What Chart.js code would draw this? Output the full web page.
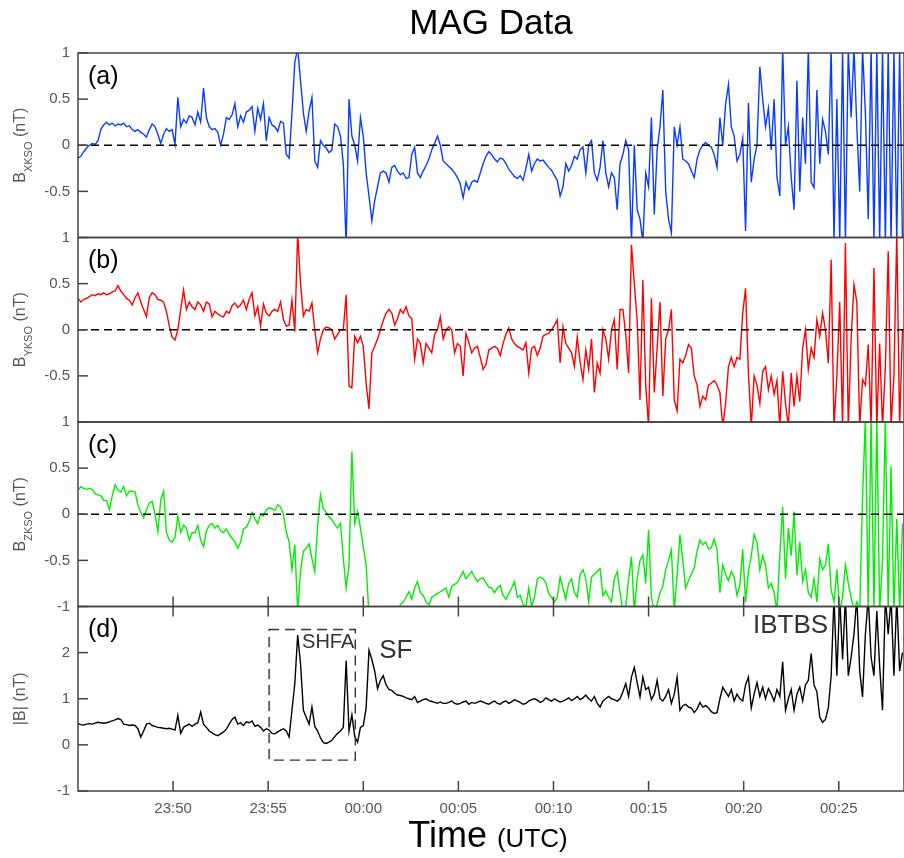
<!DOCTYPE html>
<html>
<head>
<meta charset="utf-8">
<script src="https://cdn.jsdelivr.net/npm/chart.js@4/dist/chart.umd.min.js"></script>
<style>
  html, body { margin: 0; padding: 0; background: #ffffff; }
  canvas { display: block; }
</style>
</head>
<body>
<canvas id="chart" width="904" height="858"></canvas>
<script>
// ---------------- data ----------------
// sample times are minutes relative to 00:00 UTC (negative = before midnight)
const startMinute = -15;
const stepMinutes = 0.15;
const xMin = -15;
const xMax = 28.43;
const xTickValues = [-10, -5, 0, 5, 10, 15, 20, 25];
const xTickLabels = ['23:50', '23:55', '00:00', '00:05', '00:10', '00:15', '00:20', '00:25'];
const ticksAB = [-0.5, 0, 0.5, 1];
const ticksC = [-1, -0.5, 0, 0.5, 1];
const ticksMag = [-1, 0, 1, 2];

const bxValues = [
  -0.14,-0.12,-0.07,-0.03,0.0,0.02,0.01,0.05,0.17,0.22,
  0.25,0.22,0.24,0.21,0.23,0.22,0.24,0.2,0.21,0.17,
  0.15,0.17,0.14,0.12,0.09,0.17,0.23,0.2,0.12,0.02,
  0.12,0.18,0.15,0.17,0.01,0.52,0.2,0.28,0.24,0.32,
  0.3,0.22,0.36,0.25,0.62,0.3,0.2,0.17,0.18,0.14,
  0.0,0.12,0.3,0.28,0.33,0.45,0.2,0.32,0.25,0.36,
  0.38,0.42,0.15,0.4,0.28,0.45,0.05,0.3,0.22,0.2,
  0.15,0.26,0.24,-0.1,-0.14,0.35,0.9,1.05,0.7,0.35,
  0.15,0.37,0.52,-0.17,-0.24,0.05,0.0,-0.03,-0.08,-0.05,
  0.23,0.2,0.1,-0.2,-1.1,0.5,0.1,0.0,-0.17,0.3,
  0.1,-0.3,-0.55,-0.82,-0.6,-0.45,-0.3,-0.28,-0.3,-0.4,
  -0.24,-0.22,-0.28,-0.32,-0.3,-0.36,-0.35,-0.1,-0.02,-0.3,
  -0.35,-0.28,-0.22,-0.15,-0.05,0.02,0.1,0.0,-0.17,-0.2,
  -0.23,-0.26,-0.3,-0.35,-0.42,-0.57,-0.4,-0.48,-0.4,-0.38,
  -0.4,-0.3,-0.2,-0.12,-0.07,-0.1,-0.15,-0.18,-0.14,-0.15,
  -0.2,-0.26,-0.3,-0.34,-0.36,-0.33,-0.38,-0.25,-0.1,-0.28,
  -0.2,-0.15,-0.17,-0.16,-0.2,-0.24,-0.27,-0.33,-0.38,-0.55,
  -0.45,-0.2,-0.28,-0.22,-0.12,-0.15,-0.05,-0.02,-0.3,0.0,
  0.05,-0.3,-0.38,-0.24,0.05,-0.3,-0.45,-0.3,-0.35,-0.7,
  -0.2,-0.1,0.05,-0.05,-1.05,0.0,-0.7,-0.8,-1.05,-0.3,
  -0.45,0.3,-0.75,-0.05,0.2,0.6,-0.5,-0.8,-0.95,0.2,
  0.0,0.2,-0.15,-0.17,-0.2,-0.28,-0.35,-0.15,-0.05,0.0,
  0.03,0.0,-0.02,-0.1,-0.24,0.3,0.0,0.45,0.66,0.2,
  0.1,-0.17,-0.1,0.08,-0.93,0.46,-0.4,-0.15,0.0,0.85,
  0.5,0.2,0.4,-0.05,0.5,-0.35,-0.55,1.05,0.0,0.2,
  -0.35,-0.7,0.7,-0.5,0.3,-0.2,1.05,-0.4,-0.46,0.6,
  -0.2,0.28,0.15,-0.1,1.05,-1.05,0.5,-1.05,1.05,-1.05,
  1.05,0.3,1.05,0.2,-0.5,1.05,0.35,-0.8,1.05,-1.05,
  1.05,-1.05,1.05,-1.05,1.05,-1.05,1.05,-1.05,1.05,-1.05
];

const byValues = [
  0.34,0.3,0.33,0.34,0.36,0.38,0.37,0.39,0.38,0.4,
  0.38,0.39,0.41,0.42,0.48,0.42,0.38,0.34,0.32,0.27,
  0.35,0.4,0.3,0.22,0.14,0.35,0.4,0.38,0.33,0.32,
  0.3,0.2,0.04,-0.08,-0.11,0.0,0.22,0.43,0.22,0.3,
  0.25,0.22,0.3,0.27,0.2,0.3,0.28,0.14,0.2,0.17,
  0.15,0.14,0.2,0.18,0.26,0.29,0.24,0.27,0.32,0.22,
  0.33,0.4,0.15,0.25,0.04,0.28,0.18,0.15,0.2,0.22,
  0.2,0.3,0.11,0.04,0.05,0.32,-0.02,1.05,0.5,0.15,
  0.22,0.2,0.29,0.0,-0.25,-0.1,0.0,0.03,0.02,0.0,
  -0.1,-0.05,0.0,0.0,0.38,-0.61,-0.63,-0.07,-0.14,-0.07,
  -0.18,-0.58,-0.86,-0.25,-0.18,-0.1,0.0,0.1,0.18,0.22,
  0.18,0.05,0.12,0.22,0.18,0.25,0.15,0.12,-0.32,-0.1,
  -0.15,-0.36,-0.15,-0.2,-0.25,-0.05,0.0,0.14,-0.1,0.0,
  0.03,0.0,-0.25,-0.15,-0.18,-0.5,-0.04,-0.14,-0.25,-0.2,
  -0.18,-0.3,-0.43,-0.38,-0.22,-0.2,-0.18,-0.2,-0.28,-0.15,
  -0.05,0.02,-0.1,-0.15,-0.18,-0.2,-0.22,-0.14,-0.47,-0.2,
  -0.18,-0.28,-0.2,-0.07,-0.05,-0.04,0.0,0.05,0.11,-0.36,
  0.03,-0.15,-0.2,-0.25,-0.4,-0.08,-0.35,-0.54,-0.22,-0.43,
  -0.1,-0.68,-0.36,-0.47,0.0,-0.1,-0.32,0.0,0.11,-0.43,
  0.22,0.22,-0.05,-0.47,0.92,0.5,0.1,-0.76,0.54,-0.6,
  -1.05,0.34,-0.68,-0.2,0.3,-0.72,-0.1,0.0,0.22,-0.76,
  -0.88,-0.32,-0.36,-0.28,-0.16,-0.2,-0.5,-0.6,-0.83,-0.72,
  -0.76,-0.6,-0.58,-0.55,-0.6,-0.68,-1.05,-0.8,-0.4,-0.3,
  -0.4,-0.3,-0.32,0.18,0.45,-0.47,-1.05,-0.5,-0.6,-0.8,
  -0.45,-0.4,-0.65,-0.5,-0.7,-0.55,-1.05,-0.45,-0.8,-1.05,
  -0.47,-0.83,-0.5,-0.78,-0.2,0.0,-0.43,-0.2,-0.3,0.11,
  -0.07,0.18,0.0,-0.36,0.76,-1.05,-0.5,0.3,-1.05,0.94,
  -1.05,-0.1,0.49,0.3,-1.05,-0.54,-0.6,-0.16,-1.05,0.67,
  -1.05,-0.15,-1.05,-0.4,0.85,-1.05,-0.5,1.05,-1.05,0.0
];

const bzValues = [
  0.26,0.3,0.28,0.27,0.28,0.27,0.22,0.21,0.2,0.15,
  0.15,0.05,0.2,0.32,0.26,0.24,0.3,0.2,0.25,0.25,
  0.24,0.1,0.02,-0.04,0.05,0.12,0.14,0.0,-0.19,0.15,
  0.25,-0.2,-0.28,-0.3,-0.25,-0.02,-0.2,-0.12,-0.15,-0.28,
  -0.2,-0.2,-0.12,-0.28,-0.35,-0.18,-0.12,-0.1,-0.15,-0.12,
  -0.18,-0.2,-0.16,-0.22,-0.26,-0.3,-0.37,-0.3,-0.16,-0.14,
  -0.08,0.02,-0.05,-0.1,0.0,-0.02,0.05,0.07,0.06,0.04,
  0.1,0.08,0.0,-0.19,-0.3,-0.6,-0.33,-1.05,-0.62,-0.4,
  -0.37,-0.32,-0.48,-0.62,-0.12,0.21,0.06,0.02,-0.03,-0.06,
  -0.11,-0.15,-0.1,-0.48,-0.8,-0.55,0.68,-0.1,0.03,-0.15,
  -0.35,-0.55,-1.1,-1.2,-1.2,-1.2,-1.2,-1.2,-1.2,-1.2,
  -1.2,-1.2,-1.05,-0.98,-0.95,-0.9,-0.84,-0.92,-0.8,-0.73,
  -0.85,-0.88,-0.95,-0.98,-0.9,-0.88,-0.86,-0.84,-0.82,-0.8,
  -0.9,-0.78,-0.76,-0.74,-0.68,-0.62,-0.7,-0.66,-0.62,-0.68,
  -0.73,-0.7,-0.69,-0.74,-0.79,-0.8,-0.85,-0.8,-0.77,-0.88,
  -0.92,-0.86,-0.8,-0.73,-0.9,-0.88,-0.98,-1.0,-0.8,-1.0,
  -0.9,-0.7,-0.68,-0.7,-0.74,-0.86,-0.9,-0.95,-0.9,-0.68,
  -0.8,-0.92,-0.75,-0.7,-0.85,-0.9,-0.65,-0.6,-0.7,-0.95,
  -0.68,-0.65,-0.62,-0.59,-0.88,-0.83,-0.9,-0.95,-0.7,-0.62,
  -0.85,-1.05,-1.0,-0.7,-0.46,-1.05,-0.7,-0.5,-0.44,-0.75,
  -0.17,-0.9,-1.05,-0.98,-0.85,-0.78,-0.6,-0.5,-0.39,-1.05,
  -0.66,-0.22,-0.5,-0.8,-0.72,-0.65,-0.58,-0.4,-0.28,-0.33,
  -0.3,-0.38,-0.36,-0.27,-0.38,-0.85,-0.55,-0.65,-0.72,-0.62,
  -0.68,-0.88,-0.77,-0.38,-0.95,-0.62,-0.45,-0.22,-0.3,-0.6,
  -0.45,-0.55,-0.8,-0.75,-0.85,-1.05,-0.45,0.08,-0.7,-0.15,
  -0.45,0.03,-0.66,-0.3,-0.73,-0.6,-0.85,-0.9,-0.7,-0.95,
  -0.48,-0.6,-0.55,-0.32,-0.82,-0.95,-0.6,-1.05,-0.9,-0.55,
  -0.75,-0.9,-1.05,-0.95,-1.05,0.17,1.05,-1.05,1.05,-1.05,
  1.05,-1.05,-0.5,1.05,-1.05,0.52,-1.05,-0.05,-1.05,-0.1
];

const bMagValues = [
  0.46,0.44,0.43,0.45,0.46,0.45,0.47,0.49,0.48,0.47,
  0.48,0.5,0.52,0.54,0.57,0.55,0.45,0.44,0.42,0.43,
  0.42,0.35,0.17,0.3,0.45,0.47,0.42,0.4,0.38,0.37,
  0.36,0.35,0.36,0.34,0.32,0.64,0.25,0.38,0.42,0.45,
  0.4,0.45,0.48,0.71,0.45,0.38,0.3,0.26,0.22,0.2,
  0.24,0.28,0.34,0.45,0.55,0.6,0.45,0.48,0.42,0.5,
  0.48,0.52,0.4,0.43,0.38,0.3,0.35,0.32,0.25,0.24,
  0.28,0.32,0.35,0.3,0.17,0.75,1.33,2.38,1.76,0.75,
  0.6,0.45,0.82,0.4,0.3,0.15,0.05,0.03,0.06,0.1,
  0.18,0.25,0.3,0.38,1.83,0.3,0.65,0.18,0.06,0.38,
  0.42,0.8,2.05,1.85,1.6,1.22,1.4,1.5,1.3,1.2,
  1.18,1.12,1.08,1.07,1.05,1.02,1.0,0.98,1.05,0.92,
  0.95,0.98,1.0,0.96,0.94,0.92,0.9,0.93,0.9,0.9,
  0.92,0.95,0.9,0.88,0.9,0.93,0.95,0.88,0.92,0.9,
  0.92,0.95,0.93,0.9,0.88,0.92,0.95,0.9,0.88,0.93,
  0.95,0.9,0.93,0.98,0.95,0.92,0.88,0.9,0.95,0.98,
  1.0,0.97,0.92,0.95,1.02,0.98,0.95,1.0,0.96,0.93,
  0.95,0.98,1.02,0.96,1.0,1.05,0.98,1.02,1.08,1.0,
  0.95,1.05,0.9,0.82,0.95,1.0,1.05,1.0,0.98,0.95,
  1.0,1.15,1.33,1.05,1.47,1.68,1.35,1.04,1.47,1.2,
  1.25,0.98,1.1,1.4,1.0,0.95,1.05,1.2,0.9,1.1,
  1.47,0.75,0.85,0.88,0.82,0.8,0.7,0.78,0.92,0.82,
  0.85,0.8,0.72,0.68,0.7,1.0,1.25,1.15,1.05,1.2,
  0.95,1.1,1.0,0.95,1.3,1.47,0.8,1.1,1.35,1.05,
  1.25,1.0,1.22,1.1,0.95,1.2,1.05,1.8,0.75,1.0,
  1.2,0.75,1.1,1.25,0.95,1.3,1.4,1.98,1.3,1.15,
  0.6,0.49,0.55,0.8,1.5,3.2,1.5,3.2,1.85,3.2,
  1.5,1.9,2.4,3.2,1.6,1.04,2.4,3.2,1.9,1.5,
  2.9,1.7,0.75,3.2,2.4,3.2,1.5,3.2,1.6,2.0
];

// annotation in data coordinates (minutes, nT)
const shfaBox = { x0: -4.95, x1: -0.42, y0: -0.33, y1: 2.5 };
const annotationTexts = [
  { text: 'SHFA', x: -3.22, y: 2.21, size: 20 },
  { text: 'SF', x: 0.84, y: 2.03, size: 26 },
  { text: 'IBTBS', x: 20.49, y: 2.59, size: 26 }
];

// ---------------- chart ----------------
const FONT = '"Liberation Sans", Arial, Helvetica, sans-serif';
const timeMinutes = bxValues.map((_, i) => startMinute + i * stepMinutes);
const toPoints = (vals) => vals.map((v, i) => ({ x: timeMinutes[i], y: v }));

const panels = [
  { id: 'yA', tag: '(a)', values: bxValues, color: '#0a3cff', min: -1, max: 1, ticks: ticksAB, zero: true, title: [['B', 16, 0], ['XKSO', 11, 7], [' (nT)', 16, 0]] },
  { id: 'yB', tag: '(b)', values: byValues, color: '#ff0000', min: -1, max: 1, ticks: ticksAB, zero: true, title: [['B', 16, 0], ['YKSO', 11, 7], [' (nT)', 16, 0]] },
  { id: 'yC', tag: '(c)', values: bzValues, color: '#00ee00', min: -1, max: 1, ticks: ticksC, zero: true, title: [['B', 16, 0], ['ZKSO', 11, 7], [' (nT)', 16, 0]] },
  { id: 'yD', tag: '(d)', values: bMagValues, color: '#000000', min: -1, max: 3, ticks: ticksMag, zero: false, title: [['|B| (nT)', 16, 0]] }
];

const scales = {
  x: {
    type: 'linear', position: 'bottom', min: xMin, max: xMax,
    grid: { display: false, drawTicks: false }, border: { display: false },
    ticks: { autoSkip: false, maxRotation: 0, padding: 9, color: '#555', font: { family: FONT, size: 15 },
      callback: (v, i) => xTickLabels[i] },
    afterBuildTicks: (s) => { s.ticks = xTickValues.map(v => ({ value: v })); },
    afterFit: (s) => { s.height = 67; }
  }
};
// defined bottom-to-top so that panel (a) is placed on top of the stack
[...panels].reverse().forEach(p => {
  scales[p.id] = {
    type: 'linear', position: 'left', stack: 'panels', stackWeight: 1, min: p.min, max: p.max,
    grid: { display: false, drawTicks: false }, border: { display: false },
    ticks: { autoSkip: false, padding: 8, color: '#555', font: { family: FONT, size: 15 },
      callback: (v) => String(v) },
    afterBuildTicks: (s) => { s.ticks = p.ticks.map(v => ({ value: v })); },
    afterFit: (s) => { s.width = 78; }
  };
});

const decorations = {
  id: 'decorations',
  afterDraw(chart) {
    const ctx = chart.ctx;
    const xs = chart.scales.x;
    const area = chart.chartArea;
    const L = area.left, R = area.right;
    panels.forEach((p) => {
      const ys = chart.scales[p.id];
      const T = ys.top, B = ys.bottom;
      ctx.save();
      if (p.zero) {
        ctx.setLineDash([8, 5]);
        ctx.strokeStyle = '#000';
        ctx.lineWidth = 1.5;
        const y0 = ys.getPixelForValue(0);
        ctx.beginPath(); ctx.moveTo(L, y0); ctx.lineTo(R, y0); ctx.stroke();
        ctx.setLineDash([]);
      }
      ctx.strokeStyle = '#444';
      ctx.lineWidth = 1.5;
      ctx.strokeRect(L, T, R - L, B - T);
      p.ticks.forEach(v => {
        const y = ys.getPixelForValue(v);
        ctx.beginPath(); ctx.moveTo(L, y); ctx.lineTo(L + 10, y); ctx.stroke();
      });
      // inward time ticks on lower panels
      if (p.id === 'yC' || p.id === 'yD') {
        xTickValues.forEach(v => {
          const x = xs.getPixelForValue(v);
          ctx.beginPath(); ctx.moveTo(x, B); ctx.lineTo(x, B - 10); ctx.stroke();
          if (p.id === 'yD') { ctx.beginPath(); ctx.moveTo(x, T); ctx.lineTo(x, T + 10); ctx.stroke(); }
        });
      }
      // panel tag
      ctx.fillStyle = '#000';
      ctx.font = '25px ' + FONT;
      ctx.textBaseline = 'middle';
      ctx.textAlign = 'left';
      ctx.fillText(p.tag, L + 10, T + 24);
      // y title with subscript
      ctx.fillStyle = '#555';
      ctx.textBaseline = 'alphabetic';
      let total = 0;
      p.title.forEach(([t, s]) => { ctx.font = s + 'px ' + FONT; total += ctx.measureText(t).width; });
      ctx.translate(25, (T + B) / 2);
      ctx.rotate(-Math.PI / 2);
      let u = -total / 2;
      p.title.forEach(([t, s, dy]) => {
        ctx.font = s + 'px ' + FONT;
        ctx.fillText(t, u, dy);
        u += ctx.measureText(t).width;
      });
      ctx.restore();
    });

    // SHFA dashed box and event labels on |B| panel
    const yd = chart.scales.yD;
    ctx.save();
    ctx.strokeStyle = '#333';
    ctx.lineWidth = 1.4;
    ctx.setLineDash([10, 6]);
    const bx0 = xs.getPixelForValue(shfaBox.x0), bx1 = xs.getPixelForValue(shfaBox.x1);
    const by0 = yd.getPixelForValue(shfaBox.y1), by1 = yd.getPixelForValue(shfaBox.y0);
    ctx.strokeRect(bx0, by0, bx1 - bx0, by1 - by0);
    ctx.setLineDash([]);
    ctx.fillStyle = '#333';
    ctx.textBaseline = 'middle';
    ctx.textAlign = 'left';
    annotationTexts.forEach(a => {
      ctx.font = a.size + 'px ' + FONT;
      ctx.fillText(a.text, xs.getPixelForValue(a.x), yd.getPixelForValue(a.y));
    });
    // x axis title: "Time (UTC)"
    ctx.fillStyle = '#000';
    ctx.textBaseline = 'alphabetic';
    ctx.font = '36px ' + FONT;
    const w1 = ctx.measureText('Time ').width;
    ctx.font = '26px ' + FONT;
    const w2 = ctx.measureText('(UTC)').width;
    const cx = (L + R) / 2 - 3;
    const sx = cx - (w1 + w2) / 2;
    ctx.font = '36px ' + FONT;
    ctx.fillText('Time ', sx, 847);
    ctx.font = '26px ' + FONT;
    ctx.fillText('(UTC)', sx + w1, 847);
    ctx.restore();
  }
};

new Chart(document.getElementById('chart'), {
  type: 'line',
  data: {
    datasets: panels.map(p => ({
      label: p.tag,
      data: toPoints(p.values),
      yAxisID: p.id,
      xAxisID: 'x',
      borderColor: p.color,
      borderWidth: 1.4,
      pointRadius: 0,
      tension: 0,
      fill: false
    }))
  },
  options: {
    responsive: false,
    animation: false,
    layout: { padding: { left: 0, right: 0, top: 0, bottom: 0 } },
    scales,
    plugins: {
      legend: { display: false },
      tooltip: { enabled: false },
      title: {
        display: true, text: 'MAG Data', fullSize: false,
        color: '#000', font: { family: FONT, size: 35, weight: 'normal' },
        padding: { top: 3, bottom: 8 }
      }
    }
  },
  plugins: [decorations]
});
</script>
</body>
</html>
